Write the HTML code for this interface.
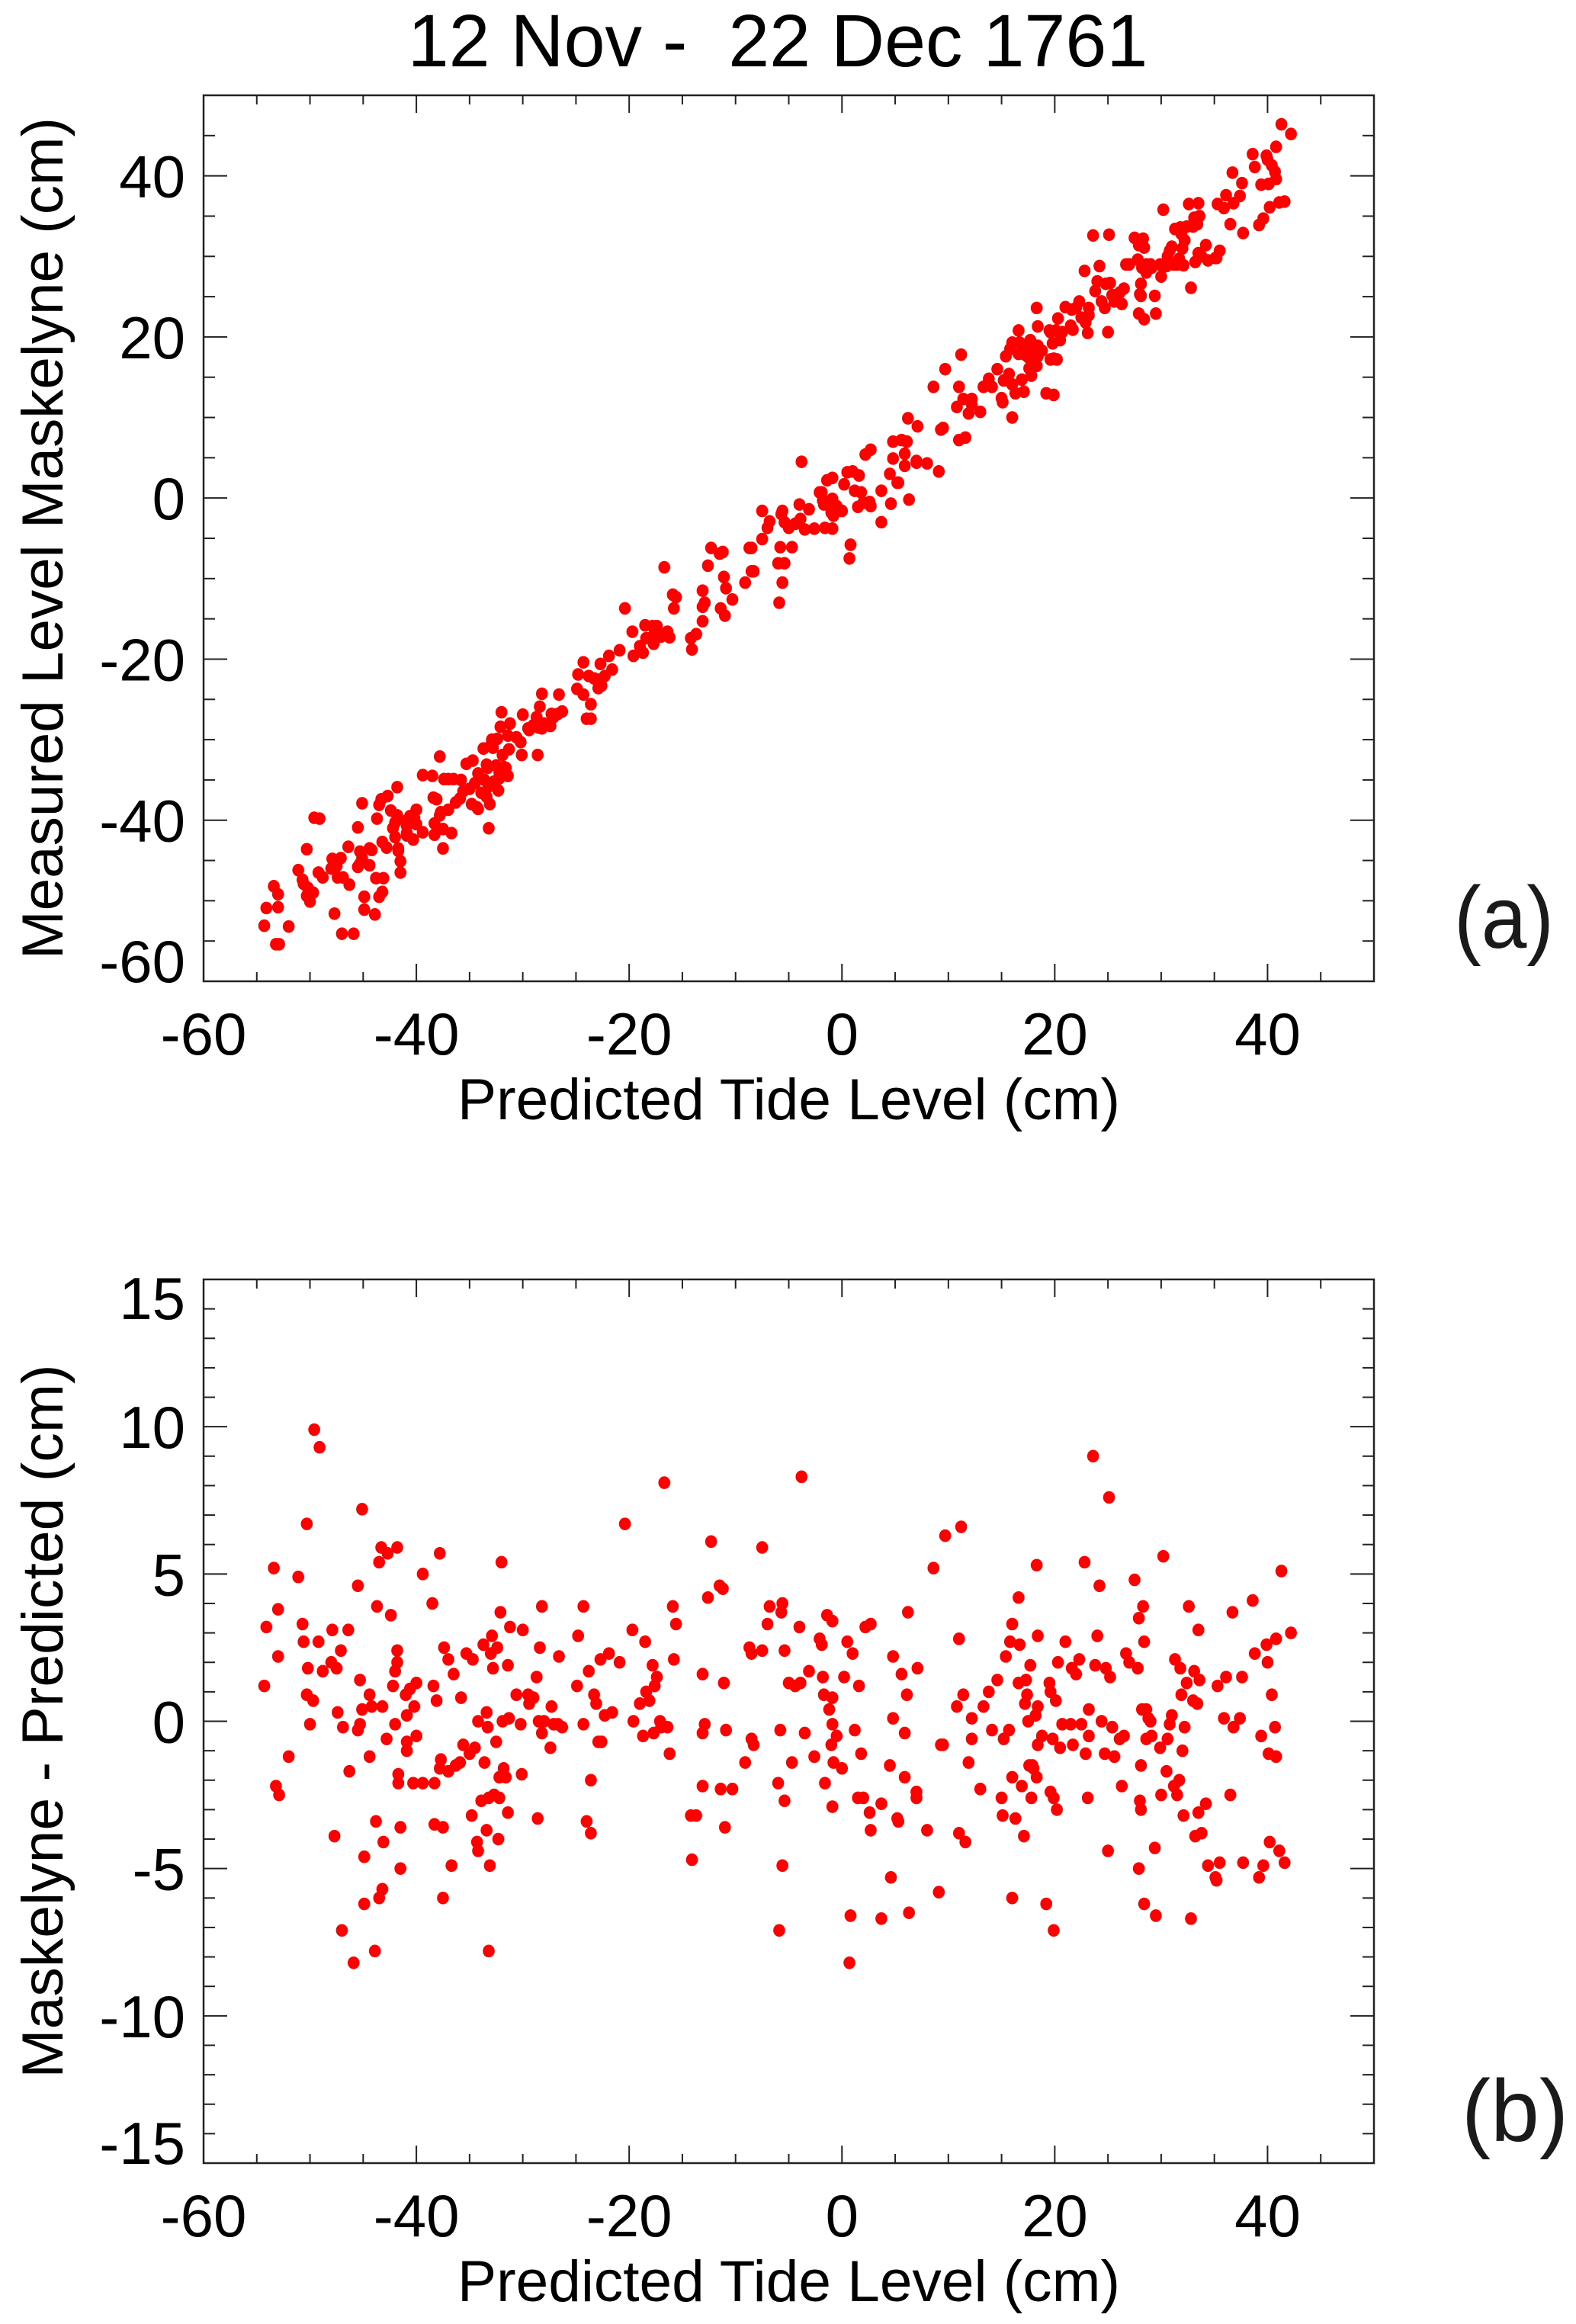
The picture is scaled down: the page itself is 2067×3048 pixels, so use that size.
<!DOCTYPE html>
<html><head><meta charset="utf-8">
<style>
html,body{margin:0;padding:0;background:#fff;}
svg{display:block;}
text{font-family:"Liberation Sans",Arial,sans-serif;fill:#000;}
</style></head>
<body>
<svg id="chart" xmlns="http://www.w3.org/2000/svg" width="2067" height="3048" viewBox="0 0 2067 3048">
<rect x="0" y="0" width="2067" height="3048" fill="#fff"/>
<text x="1020" y="87" font-size="97" text-anchor="middle" xml:space="preserve">12 Nov -  22 Dec 1761</text>
<g id="panelA"></g>
<g id="panelB"></g>
<text x="1907" y="1243" font-size="115" textLength="131" lengthAdjust="spacingAndGlyphs" style="fill:#1a1a1a">(a)</text>
<text x="1917" y="2808" font-size="115" textLength="140" lengthAdjust="spacingAndGlyphs" style="fill:#1a1a1a">(b)</text>
</svg>
<script>
const predicted = [-54.3,-54.1,-53.4,-53.0,-53.0,-53.2,-52.9,-52.0,-51.1,-50.7,-50.6,-50.3,-50.2,-50.3,-50.0,-49.6,-49.1,-49.7,-49.2,-48.8,-47.9,-48.0,-47.5,-47.1,-47.7,-47.4,-46.9,-47.0,-46.4,-46.3,-45.9,-45.5,-45.3,-45.5,-45.1,-45.3,-45.1,-44.9,-44.9,-44.4,-44.4,-44.2,-43.9,-43.8,-43.7,-43.5,-43.3,-43.2,-43.5,-43.2,-43.1,-42.7,-42.8,-42.4,-42.2,-42.0,-42.0,-41.8,-41.8,-41.8,-41.7,-41.7,-41.5,-41.5,-41.0,-40.9,-40.9,-40.9,-40.6,-40.3,-40.2,-40.0,-40.0,-39.4,-39.4,-38.5,-38.4,-38.3,-38.3,-38.1,-37.8,-37.8,-37.5,-37.5,-37.7,-37.4,-37.0,-37.0,-36.7,-36.5,-36.3,-35.9,-35.8,-35.6,-35.3,-35.0,-34.8,-34.7,-34.5,-34.3,-34.2,-34.2,-33.9,-33.7,-33.6,-33.4,-33.4,-33.3,-33.2,-33.2,-33.1,-33.0,-32.9,-32.8,-32.7,-32.5,-32.4,-32.3,-32.2,-32.2,-32.1,-32.0,-31.9,-31.8,-31.6,-31.4,-31.4,-31.3,-31.2,-30.6,-30.2,-30.1,-30.0,-29.5,-29.4,-29.0,-28.7,-28.6,-28.5,-28.4,-28.2,-28.2,-28.0,-27.4,-27.3,-27.1,-26.7,-26.6,-26.3,-24.9,-24.8,-24.3,-24.3,-24.0,-23.8,-23.6,-23.6,-23.3,-23.1,-22.9,-22.7,-22.6,-22.3,-21.9,-21.6,-20.9,-20.4,-19.7,-19.6,-19.0,-18.7,-18.5,-18.4,-18.1,-17.8,-17.7,-17.6,-17.4,-17.1,-17.0,-16.7,-16.4,-16.2,-15.9,-15.8,-15.6,-14.2,-14.1,-13.7,-13.1,-12.9,-13.1,-13.1,-12.6,-12.3,-11.5,-11.2,-11.4,-11.1,-10.9,-11.0,-10.3,-9.1,-8.7,-8.5,-8.5,-8.3,-7.5,-7.5,-7.0,-6.8,-6.0,-5.9,-5.8,-5.7,-5.6,-5.6,-5.4,-5.4,-5.0,-4.4,-4.7,-4.0,-3.9,-3.8,-3.5,-3.1,-2.6,-2.1,-1.9,-1.8,-1.7,-1.6,-1.4,-1.2,-1.0,-0.9,-0.9,-0.9,-0.9,-0.8,-0.5,0.0,0.2,0.5,0.7,0.8,1.0,1.2,1.5,1.6,1.8,2.0,2.2,2.6,2.7,2.7,3.7,3.7,4.5,4.6,4.8,4.8,5.2,5.3,5.6,5.9,5.9,6.1,6.2,6.3,7.0,7.0,7.1,8.0,8.6,9.1,9.3,9.5,9.7,10.8,11.0,11.0,11.2,11.4,11.6,11.9,12.2,12.2,13.0,13.3,13.8,14.1,14.6,15.0,15.1,15.2,15.4,15.7,15.8,16.0,16.0,16.0,16.3,16.6,16.6,16.7,16.9,17.1,17.2,17.3,17.4,17.5,17.6,17.7,17.8,17.9,18.0,18.2,18.3,18.3,18.4,18.4,18.4,18.8,19.2,19.5,19.6,19.6,19.8,19.9,19.9,20.1,20.2,20.3,20.5,20.7,21.0,21.5,21.6,21.7,22.0,22.3,22.5,22.8,22.9,23.1,23.2,23.2,23.6,23.8,24.0,24.2,24.4,24.7,24.8,25.0,25.1,25.2,25.4,25.6,26.1,26.3,26.5,26.7,27.0,27.5,27.8,27.9,27.9,28.0,28.1,28.1,28.2,28.3,28.4,28.4,28.6,28.6,28.8,29.0,29.1,29.4,29.5,29.9,30.0,30.2,30.5,30.6,30.8,31.0,31.2,31.3,31.5,31.7,31.8,31.9,32.0,32.1,32.2,32.4,32.6,32.8,33.0,33.1,33.2,33.4,33.5,33.5,33.6,33.8,34.2,34.4,35.1,35.2,35.3,35.5,35.9,36.1,36.5,36.7,36.8,37.4,37.6,37.7,38.6,38.8,39.2,39.4,39.6,39.9,40.0,40.1,40.2,40.4,40.7,40.8,40.8,41.1,41.3,41.6,42.2];
const residual = [1.2,3.2,5.2,3.8,2.2,-2.2,-2.5,-1.2,4.9,3.3,2.7,6.7,1.8,0.9,-0.1,9.9,9.3,0.7,2.7,1.7,3.1,2.0,1.8,2.4,-3.9,0.3,-0.2,-7.1,3.1,-1.7,-8.2,4.6,1.4,-0.3,7.2,-0.1,0.4,-4.6,-6.2,0.9,-1.2,0.5,-7.8,-3.4,3.9,5.4,5.9,0.5,-6.0,-5.7,-4.1,5.7,-0.6,3.6,1.2,1.7,-0.1,5.9,2.4,2.0,-1.8,-2.1,-3.6,-5.0,0.9,0.2,-0.7,-1.0,1.1,-2.1,0.5,-0.5,1.3,5.0,-2.1,4.0,1.2,-2.1,-3.5,0.7,5.7,-1.6,-3.6,-6.0,-1.3,2.5,2.1,-1.7,-4.9,1.6,-1.5,-1.4,0.8,-0.8,2.3,-1.1,-3.2,2.1,-0.9,-4.1,0.0,-4.4,-2.7,2.6,-1.4,0.3,-3.7,-0.2,-7.8,-2.6,-4.9,2.3,2.9,1.8,-2.5,-0.7,2.5,-4.0,-1.9,-2.6,3.7,5.4,0.0,-1.6,-1.9,-3.1,1.9,0.1,3.2,0.9,-0.1,-1.8,3.1,0.9,0.6,0.8,1.5,-3.3,0.0,2.5,-0.4,3.9,0.0,-0.9,0.5,-0.1,-0.1,2.2,-0.2,1.2,2.9,3.9,-0.1,-3.4,1.7,-2.0,-3.8,0.9,0.6,-0.7,2.1,-0.7,0.2,2.3,0.3,2.0,6.7,3.1,0.0,0.6,-0.5,2.7,1.0,0.7,1.9,-0.4,1.2,1.5,0.0,-0.2,8.1,-0.2,-1.1,3.9,2.1,3.3,-3.2,-4.7,-3.2,1.6,-0.1,-0.4,-2.2,4.2,6.1,4.6,4.5,-2.3,1.3,-0.3,-3.6,-2.3,-1.4,2.5,2.3,-0.6,-0.8,5.9,2.4,3.3,3.9,-2.1,-7.1,-0.3,3.7,-4.9,4.0,-2.7,2.4,1.3,1.2,-1.4,3.2,1.3,8.3,-0.4,1.7,-1.2,2.8,2.6,1.5,0.9,-2.1,3.6,0.4,-0.8,3.4,0.8,-2.9,-0.1,-1.4,-0.5,-1.6,1.5,2.7,-8.2,-6.6,2.3,-0.3,-2.6,1.2,-1.1,-2.6,3.2,-3.1,3.3,-3.7,-2.8,-6.7,-1.5,-5.3,2.2,0.1,-3.3,-3.4,1.6,-1.9,-0.4,0.9,3.7,-6.5,-2.4,-2.6,1.8,-3.7,5.2,-5.8,-0.8,-0.8,6.3,0.5,2.8,-3.8,6.6,0.9,-4.1,-1.4,-0.6,0.1,-2.3,0.5,1.0,-0.3,1.4,-2.6,-3.2,-0.6,2.2,-0.3,2.7,3.3,-1.9,-6.0,-3.3,4.2,1.3,2.6,-2.2,-3.9,0.6,1.4,0.9,0.0,-1.5,1.9,-2.6,-1.5,-1.6,0.2,5.3,-1.9,2.9,-0.8,0.5,-0.5,-6.2,1.3,-2.4,1.0,-0.6,-7.1,-2.6,0.7,-3.0,2.0,-0.9,-0.1,2.7,-0.1,1.8,-0.8,1.6,2.1,-0.1,5.4,-1.1,-2.6,0.4,-0.5,9.0,1.9,2.9,4.6,0.0,-1.1,1.8,-4.4,7.6,1.5,-0.2,-1.2,-0.6,-2.2,-0.5,2.3,2.0,4.8,1.8,3.5,-5.0,-2.7,-1.5,-3.0,0.4,3.9,-6.2,2.7,0.4,-0.6,0.1,0.0,-0.5,-4.3,-6.6,-0.9,-2.5,5.6,-1.7,-0.6,-0.1,0.2,-2.2,2.1,-2.5,-2.0,1.8,0.9,-1.0,-3.2,-0.2,1.3,3.9,-6.7,0.7,1.7,-3.9,0.6,-3.1,3.1,1.4,-3.8,-2.8,-4.9,-5.3,-5.4,1.2,-4.8,0.1,1.5,-2.5,3.7,-0.2,0.1,1.5,-4.8,4.1,2.3,-5.3,-0.5,-4.9,2.6,2.0,-1.1,-4.1,0.9,-0.2,-1.2,2.8,-4.4,5.1,-4.8,3.0];
const measured = [-53.1,-50.9,-48.2,-49.2,-50.8,-55.4,-55.4,-53.2,-46.2,-47.4,-47.9,-43.6,-48.4,-49.4,-50.1,-39.7,-39.8,-49.0,-46.5,-47.1,-44.8,-46.0,-45.7,-44.7,-51.6,-47.1,-47.1,-54.1,-43.3,-48.0,-54.1,-40.9,-43.9,-45.8,-37.9,-45.4,-44.7,-49.5,-51.1,-43.5,-45.6,-43.7,-51.7,-47.2,-39.8,-38.1,-37.4,-42.7,-49.5,-48.9,-47.2,-37.0,-43.4,-38.8,-41.0,-40.3,-42.1,-35.9,-39.4,-39.8,-43.5,-43.8,-45.1,-46.5,-40.1,-40.7,-41.6,-41.9,-39.5,-42.4,-39.7,-40.5,-38.7,-34.4,-41.5,-34.5,-37.2,-40.4,-41.8,-37.4,-32.1,-39.4,-41.1,-43.5,-39.0,-34.9,-34.9,-38.7,-41.6,-34.9,-37.8,-37.3,-35.0,-36.4,-33.0,-36.1,-38.0,-32.6,-35.4,-38.4,-34.2,-38.6,-36.6,-31.1,-35.0,-33.1,-37.1,-33.5,-41.0,-35.8,-38.0,-30.7,-30.0,-31.0,-35.2,-33.2,-29.9,-36.3,-34.1,-34.8,-28.4,-26.6,-31.9,-33.4,-33.5,-34.5,-29.5,-31.2,-28.0,-29.7,-30.3,-31.9,-26.9,-28.6,-28.8,-28.2,-27.2,-31.9,-28.5,-25.9,-28.6,-24.3,-28.0,-28.3,-26.8,-27.2,-26.8,-24.4,-26.5,-23.7,-21.9,-20.4,-24.4,-27.4,-22.1,-25.6,-27.4,-22.4,-22.5,-23.6,-20.6,-23.3,-22.1,-19.6,-21.3,-18.9,-13.7,-16.6,-19.6,-18.4,-19.2,-15.8,-17.4,-17.4,-15.9,-18.1,-16.4,-15.9,-17.1,-17.2,-8.6,-16.6,-17.3,-12.0,-13.7,-12.3,-17.4,-18.8,-16.9,-11.5,-13.0,-13.5,-15.3,-8.4,-6.2,-6.9,-6.7,-13.7,-9.8,-11.2,-14.6,-12.6,-10.5,-6.2,-6.2,-9.1,-9.1,-1.6,-5.1,-3.7,-2.9,-8.1,-13.0,-6.1,-2.0,-10.5,-1.6,-8.1,-3.0,-3.7,-3.2,-6.1,-0.8,-2.6,4.5,-3.9,-1.4,-3.8,0.7,0.7,-0.3,-0.8,-3.7,2.2,-0.8,-1.8,2.5,-0.1,-3.8,-1.0,-2.2,-1.0,-1.6,1.7,3.2,-7.5,-5.8,3.3,0.9,-1.1,2.8,0.7,-0.6,5.4,-0.5,6.0,-1.0,0.9,-3.0,3.0,-0.7,7.0,4.9,1.9,1.9,7.2,4.0,5.5,7.0,9.9,-0.2,4.6,4.4,8.9,4.3,13.8,3.3,8.5,8.7,16.0,11.3,13.8,7.2,17.8,12.3,7.5,10.5,11.6,12.3,10.7,13.8,14.8,13.8,16.0,12.4,11.9,14.6,17.6,15.4,18.5,19.3,14.1,10.0,13.0,20.8,17.9,19.3,14.7,13.2,17.8,18.7,18.3,17.5,16.1,19.6,15.2,16.4,16.4,18.4,23.6,16.4,21.3,17.6,18.9,18.3,13.0,20.8,17.2,20.6,19.2,12.8,17.3,20.8,17.2,22.3,19.6,20.6,23.7,21.4,23.4,20.9,23.6,24.4,22.4,28.2,21.8,20.5,23.6,22.7,32.6,25.7,26.9,28.8,24.4,23.6,26.6,20.6,32.7,26.7,25.2,24.4,25.5,24.1,26.0,29.0,29.0,32.3,29.6,31.4,22.9,25.3,26.6,25.1,28.6,32.2,22.2,31.1,29.0,28.0,28.9,29.0,28.6,25.1,22.9,29.0,27.5,35.8,28.8,30.0,30.7,31.2,29.0,33.4,29.0,29.7,33.6,32.8,31.0,28.9,32.0,33.7,36.5,26.1,33.7,34.8,29.3,34.0,30.4,36.6,35.0,30.0,31.4,29.5,29.8,29.8,36.5,30.7,36.0,37.6,34.0,40.4,36.6,37.5,39.1,32.9,42.7,41.1,33.9,38.9,34.7,42.5,42.0,39.0,36.1,41.3,40.5,39.6,43.6,36.7,46.4,36.8,45.2];
const xTickLabels = ["-60","-40","-20","0","20","40"];
const yTickLabelsA = ["-60","-40","-20","0","20","40"];
const yTickLabelsB = ["-15","-10","-5","0","5","10","15"];

const NS = "http://www.w3.org/2000/svg";
const L = 267, R = 1802;
const xMin = -60, xMax = 50;
function sx(v){ return L + (v - xMin) * (R - L) / (xMax - xMin); }

function mk(tag, attrs, parent){
  const e = document.createElementNS(NS, tag);
  for (const k in attrs) e.setAttribute(k, attrs[k]);
  parent.appendChild(e);
  return e;
}

function drawPanel(g, top, bottom, yMin, yMax, yMajor, yMinor, yLabels, xs, ys, xTitle, yTitle, yTitleLen, id){
  const sy = v => bottom - (v - yMin) * (bottom - top) / (yMax - yMin);
  for (let i = 0; i < xs.length; i++){
    const c = mk('ellipse', {cx: sx(xs[i]), cy: sy(ys[i]), rx: 7.8, ry: 8.3, fill: '#ff0000'}, g);
    
    
  }
  const box = mk('rect', {x: L, y: top, width: R - L, height: bottom - top, fill: 'none', stroke: '#222', 'stroke-width': 2.5}, g);
  
  
  const tk = mk('g', {stroke: '#222', 'stroke-width': 2}, g);
  
  
  for (let v = xMin; v <= xMax + 1e-9; v += 5){
    const major = Math.abs(v % 20) < 1e-9;
    const len = major ? 23 : 12;
    const x = sx(v);
    mk('line', {x1: x, y1: bottom, x2: x, y2: bottom - len}, tk);
    mk('line', {x1: x, y1: top, x2: x, y2: top + len}, tk);
  }
  for (let v = yMin; v <= yMax + 1e-9; v += yMinor){
    const major = Math.abs(Math.round(v / yMajor) * yMajor - v) < 1e-9;
    const len = major ? 31 : 15;
    const y = sy(v);
    mk('line', {x1: L, y1: y, x2: L + len, y2: y}, tk);
    mk('line', {x1: R, y1: y, x2: R - len, y2: y}, tk);
  }
  xTickLabels.forEach(s => {
    const t = mk('text', {x: sx(parseFloat(s)), y: bottom + 96, 'font-size': 78, 'text-anchor': 'middle'}, g);
    t.textContent = s;
    
    
  });
  yLabels.forEach((s, i) => {
    let y = sy(parseFloat(s)) + 28;
    if (i === 0) y -= 27;
    if (i === yLabels.length - 1 && parseFloat(s) === yMax) y += 24;
    const t = mk('text', {x: 243, y: y, 'font-size': 78, 'text-anchor': 'end'}, g);
    t.textContent = s;
    
    
  });
  const xt = mk('text', {x: (L + R) / 2, y: bottom + 181, 'font-size': 76, 'text-anchor': 'middle', textLength: 869, lengthAdjust: 'spacingAndGlyphs'}, g);
  xt.textContent = xTitle;
  
  
  const cy = (top + bottom) / 2;
  const yt = mk('text', {x: 0, y: 0, 'font-size': 76, 'text-anchor': 'middle', textLength: yTitleLen, lengthAdjust: 'spacingAndGlyphs', transform: 'translate(82,' + cy + ') rotate(-90)'}, g);
  yt.textContent = yTitle;
  
  
}

drawPanel(document.getElementById('panelA'), 125, 1287, -60, 50, 20, 5, yTickLabelsA, predicted, measured,
  'Predicted Tide Level (cm)', 'Measured Level Maskelyne (cm)', 1104, 'panel-a');
drawPanel(document.getElementById('panelB'), 1678, 2837, -15, 15, 5, 1, yTickLabelsB, predicted, residual,
  'Predicted Tide Level (cm)', 'Maskelyne - Predicted (cm)', 936, 'panel-b');
</script>
</body></html>
